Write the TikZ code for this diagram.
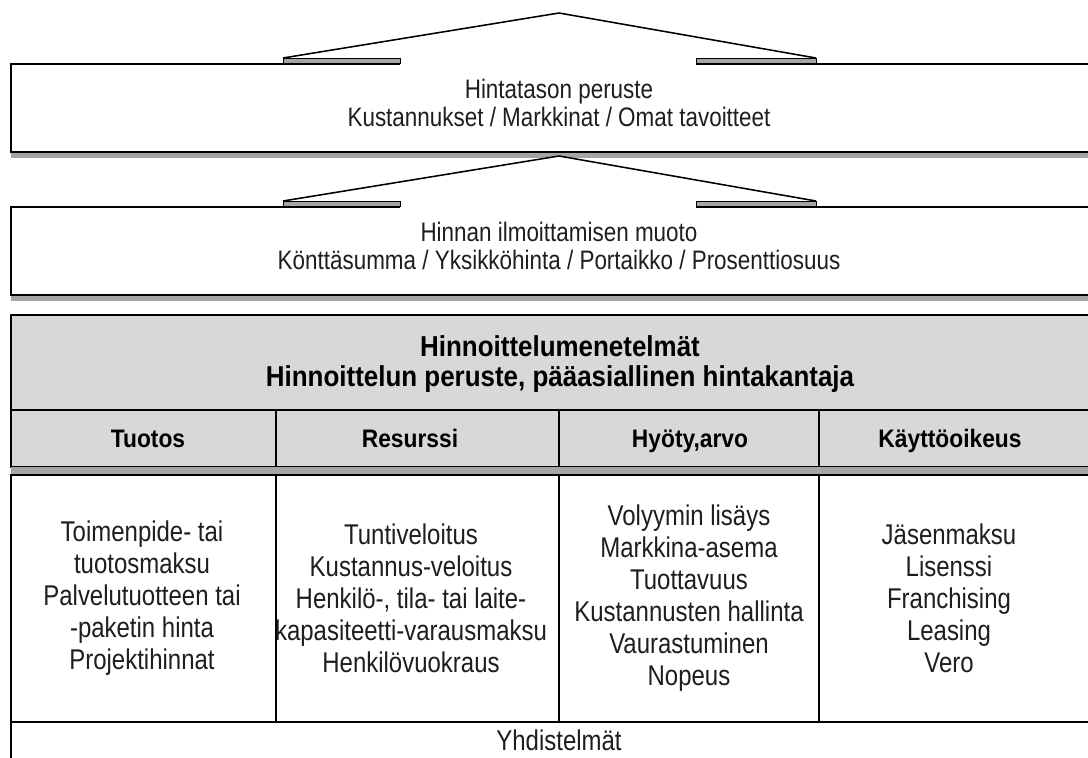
\documentclass[tikz,border=0pt]{standalone}
\usepackage{fontspec}
\setmainfont{Liberation Sans}
\newfontfamily\condfont[FakeStretch=0.84]{Liberation Sans}
\newfontfamily\headfont[FakeStretch=0.9]{Liberation Sans}
\usepackage{tikz}
\usetikzlibrary{positioning, calc}
\definecolor{screengrey}{RGB}{216,216,216}
\definecolor{shadegrey}{RGB}{165,165,165}
\definecolor{inkgrey}{RGB}{30,30,30}

\begin{document}
\begin{tikzpicture}[
    x=0.025cm, y=-0.025cm,
    outline/.style={draw=black, line width=1.1pt},
    shade/.style={fill=shadegrey},
    tipbar/.style={draw=black, line width=0.7pt, fill=shadegrey},
    label/.style={
        align=center,
        inner sep=0pt,
        text=inkgrey,
        font=\condfont\fontsize{19}{20.5}\selectfont
    },
    body/.style={
        align=center,
        inner sep=0pt,
        text=inkgrey,
        font=\condfont\fontsize{20.3}{22.8}\selectfont
    },
    title/.style={
        align=center,
        inner sep=0pt,
        font=\headfont\fontsize{20.5}{21.5}\selectfont\bfseries
    },
    colhead/.style={
        inner sep=0pt,
        text height=13pt,
        text depth=3pt,
        font=\headfont\fontsize{18}{18}\selectfont\bfseries
    }
]
\clip (0,0) rectangle (1088,758);
\fill[white] (0,0) rectangle (1088,758);

% upper arrow: basis of the price level
\fill[shade] (11,152) rectangle (1100,158);
\fill[white] (11,64) rectangle (1100,152);
\fill[white] (283,58) -- (559,13) -- (816,58) -- (816,64) -- (283,64) -- cycle;
\draw[outline, line join=miter] (283,58) -- (559,13) -- (816,58);
\draw[outline] (400,64) -| (11,152) -| (1100,64) -- (696,64);
\draw[tipbar] (283,58) rectangle (400,63);
\draw[tipbar] (696,58) rectangle (816,63);

% lower arrow: form of stating the price
\fill[shade] (11,295) rectangle (1100,301);
\fill[white] (11,207) rectangle (1100,295);
\fill[white] (283,201) -- (559,156) -- (816,201) -- (816,207) -- (283,207) -- cycle;
\draw[outline, line join=miter] (283,201) -- (559,156) -- (816,201);
\draw[outline] (400,207) -| (11,295) -| (1100,207) -- (696,207);
\draw[tipbar] (283,201) rectangle (400,206);
\draw[tipbar] (696,201) rectangle (816,206);

% pricing methods block
\filldraw[outline, fill=screengrey] (11,315) rectangle (1100,467);
\draw[outline] (11,410) -- (1100,410);
\draw[outline] (276,410) -- (276,467);
\draw[outline] (559,410) -- (559,467);
\draw[outline] (819,410) -- (819,467);
\fill[shade] (11,467) rectangle (1100,474);

% columns
\filldraw[outline, fill=white] (11,475) rectangle (1100,722);
\draw[outline] (276,475) -- (276,722);
\draw[outline] (559,475) -- (559,722);
\draw[outline] (819,475) -- (819,722);
\filldraw[outline, fill=white] (11,722) rectangle (1100,770);

\node[label] (level) at (559,103) {Hintatason peruste\\Kustannukset / Markkinat / Omat tavoitteet};
\node[label] (form) at (559,246) {Hinnan ilmoittamisen muoto\\Könttäsumma / Yksikköhinta / Portaikko / Prosenttiosuus};
\node[title] (methods) at (560,364) {Hinnoittelumenetelmät\\Hinnoittelun peruste, pääasiallinen hintakantaja};

\node[colhead] (hOutput) at (148,440) {Tuotos};
\node[colhead] (hResource) at (410,440) {Resurssi};
\node[colhead] (hValue) at (690,440) {Hyöty,arvo};
\node[colhead] (hRight) at (950,440) {Käyttöoikeus};

\node[body] (bOutput) at (142,598) {Toimenpide- tai\\tuotosmaksu\\Palvelutuotteen tai\\-paketin hinta\\Projektihinnat};
\node[body] (bResource) at (411,598) {Tuntiveloitus\\Kustannus-veloitus\\Henkilö-, tila- tai laite-\\kapasiteetti-varausmaksu\\Henkilövuokraus};
\node[body] (bValue) at (689,598) {Volyymin lisäys\\Markkina-asema\\Tuottavuus\\Kustannusten hallinta\\Vaurastuminen\\Nopeus};
\node[body] (bRight) at (949,598) {Jäsenmaksu\\Lisenssi\\Franchising\\Leasing\\Vero};

\node[body] (combo) at (559,740) {Yhdistelmät};

\end{tikzpicture}
\end{document}
